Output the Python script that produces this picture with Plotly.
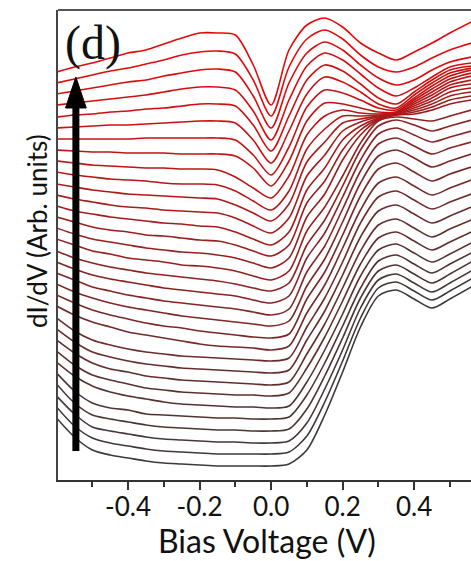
import plotly.graph_objects as go

# Bias voltage grid (V)
bias_v = [-0.60, -0.55, -0.50, -0.45, -0.40, -0.35, -0.30, -0.25, -0.20, -0.15,
          -0.10, -0.05, 0.00, 0.05, 0.10, 0.15, 0.20, 0.25, 0.30, 0.35,
          0.40, 0.45, 0.50, 0.56]

# dI/dV spectra (arb. units, already vertically offset), bottom (s00) to top (s31)
s00 = [62, 43, 30, 25, 22, 19, 17, 16, 15, 14, 14, 14, 14, 16, 30, 65, 108, 153, 184, 190, 181, 172, 181, 193]
s01 = [73, 54, 42, 37, 34, 31, 29, 28, 27, 26, 26, 26, 26, 28, 44, 78, 119, 162, 192, 198, 189, 180, 189, 201]
s02 = [84, 66, 53, 49, 46, 43, 41, 40, 39, 38, 38, 37, 37, 39, 57, 91, 130, 172, 200, 206, 197, 188, 197, 209]
s03 = [96, 77, 65, 61, 58, 55, 53, 52, 51, 50, 50, 49, 49, 51, 71, 104, 142, 182, 209, 215, 206, 197, 206, 218]
s04 = [107, 89, 77, 72, 70, 66, 65, 64, 63, 62, 62, 61, 61, 63, 85, 117, 154, 192, 219, 225, 216, 207, 216, 227]
s05 = [118, 104, 94, 88, 84, 81, 78, 76, 75, 74, 73, 73, 72, 74, 98, 130, 166, 204, 230, 236, 227, 218, 226, 237]
s06 = [129, 115, 105, 100, 96, 92, 90, 88, 87, 86, 85, 85, 84, 87, 112, 143, 179, 216, 242, 248, 239, 230, 238, 248]
s07 = [140, 127, 117, 111, 108, 104, 102, 100, 99, 98, 97, 96, 95, 98, 126, 156, 192, 229, 255, 261, 252, 243, 251, 260]
s08 = [151, 138, 128, 123, 119, 116, 114, 112, 111, 110, 109, 108, 107, 110, 140, 169, 205, 243, 269, 275, 266, 257, 264, 273]
s09 = [162, 149, 140, 135, 131, 128, 126, 124, 123, 122, 121, 120, 119, 122, 153, 182, 218, 257, 283, 289, 280, 271, 278, 286]
s10 = [174, 165, 158, 153, 148, 145, 142, 139, 136, 134, 133, 132, 130, 134, 167, 195, 232, 270, 297, 303, 294, 285, 292, 300]
s11 = [185, 177, 170, 165, 161, 157, 154, 152, 149, 147, 145, 143, 142, 146, 181, 208, 245, 284, 311, 317, 308, 299, 306, 313]
s12 = [196, 188, 182, 177, 173, 170, 167, 164, 162, 160, 158, 156, 154, 159, 194, 221, 258, 297, 324, 330, 322, 313, 319, 326]
s13 = [207, 200, 193, 189, 185, 182, 179, 177, 175, 173, 171, 168, 165, 171, 208, 234, 271, 309, 336, 342, 334, 326, 332, 338]
s14 = [218, 211, 205, 201, 198, 195, 192, 190, 188, 186, 184, 180, 177, 184, 222, 247, 283, 320, 346, 352, 345, 338, 343, 349]
s15 = [229, 222, 217, 213, 210, 207, 205, 203, 201, 199, 196, 192, 189, 197, 235, 260, 294, 330, 354, 360, 355, 349, 354, 360]
s16 = [241, 235, 229, 226, 222, 220, 218, 215, 214, 212, 209, 204, 200, 209, 249, 273, 304, 337, 359, 363, 361, 359, 364, 370]
s17 = [252, 246, 241, 238, 235, 232, 230, 228, 227, 225, 222, 217, 212, 222, 263, 286, 320, 345, 360, 365, 366, 370, 376, 380]
s18 = [263, 258, 253, 250, 248, 245, 244, 242, 240, 239, 235, 229, 224, 235, 277, 299, 330, 350, 361, 365, 368, 373, 380, 384]
s19 = [274, 269, 266, 263, 261, 259, 257, 256, 254, 253, 248, 241, 235, 248, 290, 312, 340, 354, 362, 366, 370, 376, 384, 388]
s20 = [285, 281, 278, 275, 273, 272, 270, 269, 268, 267, 262, 254, 247, 262, 304, 325, 349, 358, 363, 366, 372, 379, 388, 392]
s21 = [296, 293, 290, 288, 286, 285, 284, 283, 282, 281, 275, 267, 259, 276, 318, 338, 357, 361, 364, 367, 374, 382, 392, 396]
s22 = [308, 305, 303, 301, 300, 299, 297, 296, 296, 295, 289, 279, 270, 289, 331, 351, 364, 364, 365, 367, 376, 385, 395, 400]
s23 = [319, 317, 315, 314, 313, 312, 312, 311, 311, 310, 303, 292, 282, 304, 345, 364, 370, 367, 366, 368, 378, 388, 398, 404]
s24 = [330, 329, 328, 328, 327, 327, 327, 326, 326, 326, 324, 312, 294, 319, 359, 377, 376, 372, 368, 368, 380, 391, 401, 407]
s25 = [341, 341, 341, 341, 341, 342, 342, 342, 342, 342, 340, 325, 305, 333, 373, 390, 387, 380, 372, 370, 382, 394, 404, 410]
s26 = [352, 353, 354, 355, 355, 356, 357, 358, 359, 359, 357, 340, 317, 349, 386, 403, 398, 388, 376, 372, 385, 397, 407, 412]
s27 = [363, 365, 366, 368, 369, 371, 372, 374, 376, 376, 374, 355, 329, 364, 400, 415, 409, 396, 382, 376, 388, 400, 410, 414]
s28 = [375, 377, 379, 381, 383, 385, 388, 391, 393, 393, 390, 369, 340, 380, 414, 427, 420, 406, 392, 384, 392, 403, 413, 417]
s29 = [386, 389, 392, 395, 398, 400, 404, 407, 410, 411, 408, 384, 352, 397, 427, 438, 430, 415, 402, 395, 400, 410, 418, 423]
s30 = [397, 401, 405, 409, 412, 416, 420, 425, 428, 429, 426, 400, 364, 413, 441, 450, 441, 425, 413, 408, 413, 422, 430, 437]
s31 = [408, 413, 417, 422, 427, 430, 436, 442, 447, 447, 445, 415, 375, 430, 455, 462, 453, 437, 427, 420, 428, 437, 447, 458]

spectra = [s00, s01, s02, s03, s04, s05, s06, s07, s08, s09, s10, s11, s12, s13, s14, s15,
           s16, s17, s18, s19, s20, s21, s22, s23, s24, s25, s26, s27, s28, s29, s30, s31]

tick_vals = [-0.4, -0.2, 0.0, 0.2, 0.4]
tick_text = ["-0.4", "-0.2", "0.0", "0.2", "0.4"]
minor_vals = [-0.5, -0.3, -0.1, 0.1, 0.3, 0.5]

# colour ramp: dark grey (bottom) -> red (top)
c_lo = (58, 58, 58)
c_hi = (232, 8, 8)
n = len(spectra)


def ramp(i):
    t = i / (n - 1)
    r, g, b = [round(a + (b_ - a) * t) for a, b_ in zip(c_lo, c_hi)]
    return f"rgb({r},{g},{b})"


fig = go.Figure()
for i, s in enumerate(spectra):
    fig.add_trace(go.Scatter(
        x=bias_v, y=s, mode="lines",
        line=dict(color=ramp(i), width=1.6, shape="spline", smoothing=0.8),
        showlegend=False, hoverinfo="skip"))

axis_font = "Lato, 'Open Sans', sans-serif"

fig.update_layout(
    width=471, height=561,
    margin=dict(l=58, r=0, t=10, b=81),
    paper_bgcolor="white", plot_bgcolor="white",
    showlegend=False,
    font=dict(family=axis_font, color="#111"),
)

fig.update_xaxes(
    range=[-0.596, 0.559],
    showline=True, linecolor="#333", linewidth=1.5,
    showgrid=False, zeroline=False,
    ticks="outside", ticklen=8, tickwidth=1.5, tickcolor="#333",
    tickvals=tick_vals, ticktext=tick_text,
    tickfont=dict(family=axis_font, size=26, color="#111"),
    ticklabelstandoff=-5,
    minor=dict(tickvals=minor_vals, ticks="outside", ticklen=5, tickwidth=1.5, tickcolor="#333"),
)
fig.update_yaxes(
    range=[0, 470],
    showline=True, linecolor="#444", linewidth=1.5,
    showgrid=False, zeroline=False,
    showticklabels=False, ticks="",
)

# top frame line (plot runs off the right edge)
fig.add_shape(type="line", xref="paper", yref="paper", x0=0, x1=1, y0=1, y1=1,
              line=dict(color="#555", width=2))

# black arrow indicating stacking direction
arrow_x = -0.546
fig.add_shape(type="line", xref="x", yref="y", x0=arrow_x, x1=arrow_x, y0=29, y1=375,
              line=dict(color="black", width=7))
fig.add_shape(type="path", xref="x", yref="y",
              path=f"M {arrow_x - 0.029},372 L {arrow_x + 0.029},372 L {arrow_x},403 Z",
              fillcolor="black", line=dict(color="black", width=1))

fig.add_annotation(text="(d)", xref="paper", yref="paper", x=0.085, y=0.93,
                   xanchor="center", yanchor="middle", showarrow=False,
                   font=dict(family="Liberation Serif, 'Times New Roman', serif", size=48, color="#111"))

fig.add_annotation(text="Bias Voltage (V)", xref="paper", yref="paper", x=0.505, y=-0.128,
                   xanchor="center", yanchor="middle", showarrow=False,
                   font=dict(family=axis_font, size=32, color="#111"))

fig.add_annotation(text="dI/dV (Arb. units)", xref="paper", yref="paper", x=-0.0508, y=0.53,
                   xanchor="center", yanchor="middle", textangle=-90, showarrow=False,
                   font=dict(family=axis_font, size=26, color="#111"))

fig.write_html("out.html", config={"displayModeBar": False},
               post_script="document.body.style.margin='0px';document.body.style.padding='0px';")
